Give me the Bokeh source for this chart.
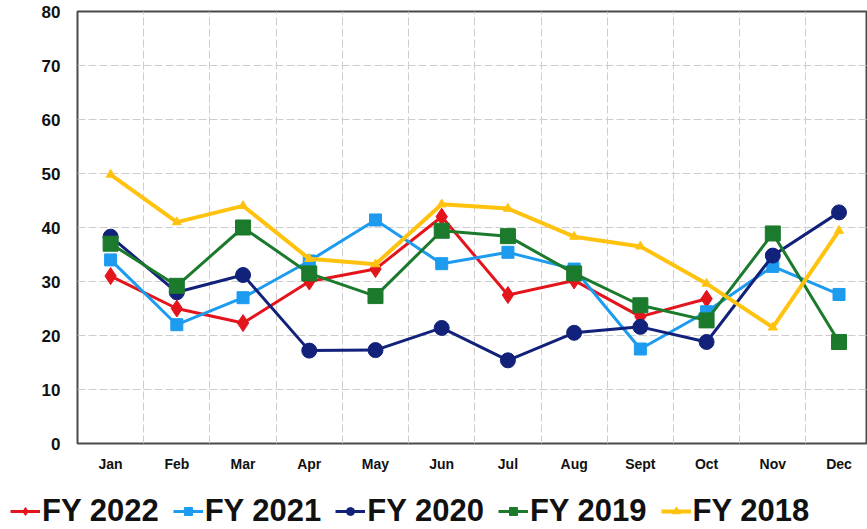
from bokeh.plotting import figure
from bokeh.layouts import column, row
from bokeh.models import (Legend, LegendItem, FixedTicker, Grid, Range1d)
from bokeh.embed import file_html
from bokeh.resources import INLINE

# Monthly values per fiscal year
months = ["Jan", "Feb", "Mar", "Apr", "May", "Jun",
          "Jul", "Aug", "Sept", "Oct", "Nov", "Dec"]
fy2022 = [31.0, 25.0, 22.3, 30.0, 32.3, 42.0, 27.5, 30.2, 23.5, 26.8]
fy2021 = [34.0, 22.0, 27.0, 33.8, 41.4, 33.3, 35.4, 32.3, 17.5, 24.4, 32.8, 27.6]
fy2020 = [38.3, 28.0, 31.2, 17.2, 17.3, 21.4, 15.4, 20.5, 21.6, 18.8, 34.8, 42.8]
fy2019 = [37.0, 29.2, 40.0, 31.5, 27.3, 39.4, 38.4, 31.5, 25.6, 22.8, 38.9, 18.8]
fy2018 = [49.8, 41.0, 44.0, 34.2, 33.2, 44.3, 43.5, 38.3, 36.5, 29.6, 21.5, 39.4]

series = [
    ("FY 2022", fy2022, "#e3141b", "diamond", 17, 3),
    ("FY 2021", fy2021, "#1c9bef", "square", 12, 3),
    ("FY 2020", fy2020, "#12227a", "circle", 15, 3),
    ("FY 2019", fy2019, "#1b7a2b", "square", 15, 3),
    ("FY 2018", fy2018, "#ffc20e", "triangle", 9, 4),
]

FONT = "Liberation Sans"

p = figure(width=867, height=486, output_backend="svg", toolbar_location=None,
           x_range=Range1d(0.5, 12.43), y_range=Range1d(0, 80),
           min_border_left=77, min_border_right=0, min_border_top=11,
           min_border_bottom=43)
p.background_fill_color = "white"
p.border_fill_color = "white"
p.outline_line_color = "#4a4a4a"
p.outline_line_width = 2

# Axes: labels only, the frame outline acts as axis line
p.xaxis.ticker = FixedTicker(ticks=list(range(1, 13)))
p.xaxis.major_label_overrides = {i + 1: m for i, m in enumerate(months)}
p.yaxis.ticker = FixedTicker(ticks=list(range(0, 81, 10)))
for ax in (p.xaxis, p.yaxis):
    ax.axis_line_color = None
    ax.major_tick_line_color = None
    ax.minor_tick_line_color = None
    ax.major_tick_in = 0
    ax.major_tick_out = 0
    ax.major_label_text_font = FONT
    ax.major_label_text_font_style = "bold"
    ax.major_label_text_color = "#111111"
p.xaxis.major_label_text_font_size = "14px"
p.xaxis.major_label_standoff = 12
p.yaxis.major_label_text_font_size = "17px"
p.yaxis.major_label_standoff = 17

# Grid: horizontal at the value ticks, vertical between months
p.xgrid.visible = False
p.ygrid.grid_line_color = "#cdcdcd"
p.ygrid.grid_line_dash = "8 3"
p.ygrid.grid_line_width = 1
vgrid = Grid(dimension=0, ticker=FixedTicker(ticks=[i + 0.5 for i in range(1, 12)]),
             grid_line_color="#cdcdcd", grid_line_dash="8 3", grid_line_width=1)
p.add_layout(vgrid)

# Legend strip underneath: same series drawn off-view, legend carries the keys
leg = figure(width=867, height=43, output_backend="svg", toolbar_location=None,
             x_axis_location=None, y_axis_location=None,
             x_range=Range1d(0, 13), y_range=Range1d(1000, 1001),
             min_border_left=0, min_border_right=0, min_border_top=0,
             min_border_bottom=0)
leg.outline_line_color = None
leg.grid.visible = False

items = []
for label, vals, color, marker, size, lw in series:
    xs = list(range(1, len(vals) + 1))
    p.line(xs, vals, line_color=color, line_width=lw)
    p.scatter(xs, vals, marker=marker, size=size, fill_color=color,
              line_color=color)
    ln = leg.line(xs, vals, line_color=color, line_width=lw)
    sc = leg.scatter(xs, vals, marker=marker, size=size, fill_color=color,
                     line_color=color)
    items.append(LegendItem(label=label, renderers=[ln, sc]))

legend = Legend(items=items, orientation="horizontal", location=(10, 0),
                label_text_font=FONT, label_text_font_style="bold",
                label_text_font_size="31px", label_text_color="#111111",
                glyph_width=30, glyph_height=20, label_standoff=2, spacing=14,
                padding=0, margin=0, border_line_color=None,
                background_fill_alpha=0)
leg.add_layout(legend, "center")

page = column(p, row(leg, spacing=0), spacing=0)
open("out.html", "w").write(file_html(page, INLINE))
